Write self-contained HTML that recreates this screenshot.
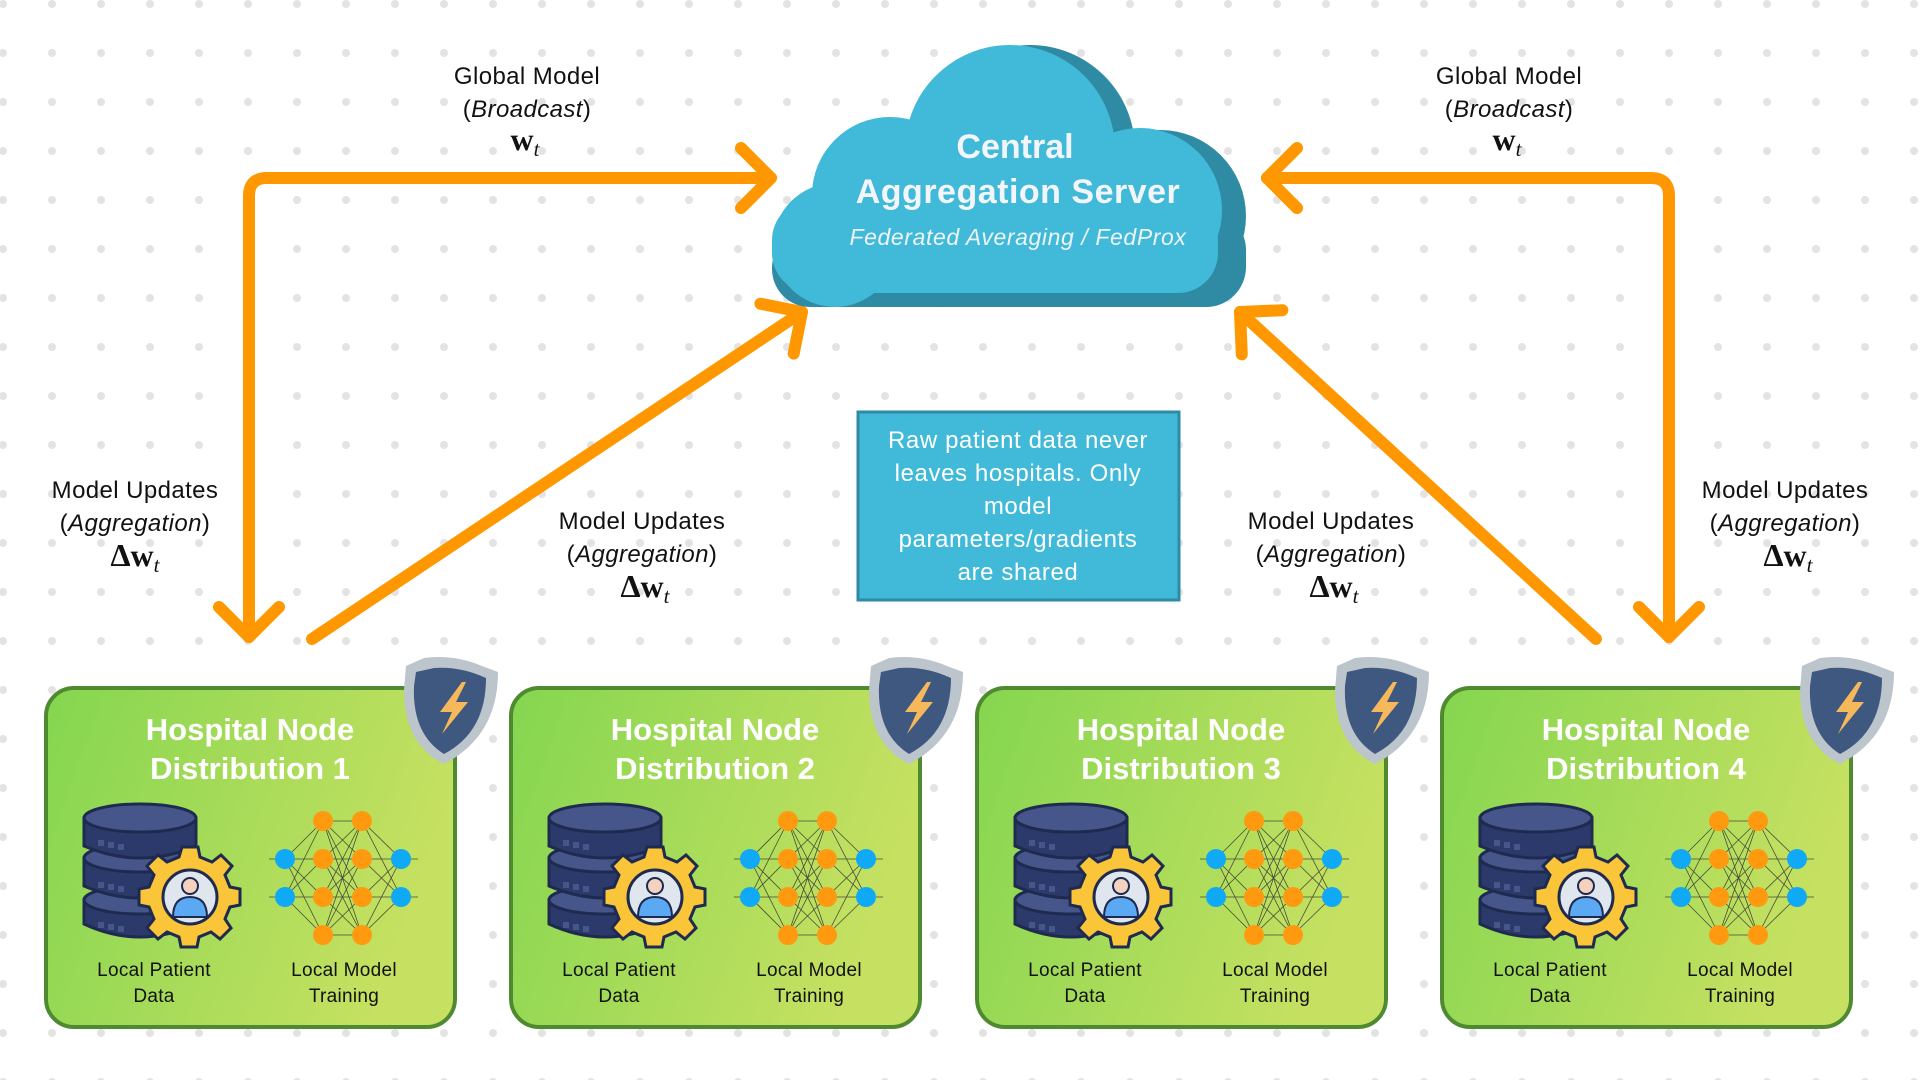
<!DOCTYPE html>
<html><head><meta charset="utf-8"><style>
html,body{margin:0;padding:0;background:#fff;}
svg{display:block;font-family:"Liberation Sans",sans-serif;}
</style></head><body>
<svg width="1920" height="1080" viewBox="0 0 1920 1080" xmlns="http://www.w3.org/2000/svg">
<defs>
<pattern id="dots" x="3" y="4" width="49" height="49" patternUnits="userSpaceOnUse">
<circle cx="0" cy="0" r="4" fill="#e3e3e3"/><circle cx="49" cy="0" r="4" fill="#e3e3e3"/><circle cx="0" cy="49" r="4" fill="#e3e3e3"/><circle cx="49" cy="49" r="4" fill="#e3e3e3"/>
</pattern>
<linearGradient id="cardg" x1="0" x2="1" y1="0" y2="0.3"><stop offset="0" stop-color="#84d650"/><stop offset="1" stop-color="#c6e061"/></linearGradient>
<marker id="chev" markerUnits="userSpaceOnUse" markerWidth="80" markerHeight="80" refX="0" refY="0" orient="auto" overflow="visible">
<path d="M-30,-30 L0,0 L-30,30" fill="none" stroke="#ff9800" stroke-width="12" stroke-linecap="round" stroke-linejoin="round"/>
</marker>
<g id="card">
<rect x="0" y="0" width="409" height="339" rx="28" fill="url(#cardg)" stroke="#4f8a31" stroke-width="4"/>
<text x="204" y="52" text-anchor="middle" font-size="31" font-weight="bold" fill="#fff">Hospital Node</text>
<g stroke="#1e2a4f" stroke-width="3">
<path d="M38,212 L38,236 Q94,262 150,236 L150,212 Z" fill="#2c3a6b"/>
<ellipse cx="94" cy="212" rx="56" ry="14" fill="#46568a"/>
<path d="M38,170 L38,198 Q94,222 150,198 L150,170 Z" fill="#2c3a6b"/>
<ellipse cx="94" cy="170" rx="56" ry="14" fill="#46568a"/>
<path d="M38,130 L38,158 Q94,182 150,158 L150,130 Z" fill="#2c3a6b"/>
<ellipse cx="94" cy="130" rx="56" ry="14" fill="#46568a"/>
</g>
<g fill="#46568a"><rect x="52" y="152" width="6" height="6"/><rect x="62" y="154" width="6" height="6"/><rect x="72" y="156" width="6" height="6"/><rect x="52" y="194" width="6" height="6"/><rect x="62" y="196" width="6" height="6"/><rect x="72" y="198" width="6" height="6"/><rect x="52" y="234" width="6" height="6"/><rect x="62" y="236" width="6" height="6"/><rect x="72" y="238" width="6" height="6"/></g>
<g transform="translate(144,209)">
<g fill="#fbc53a" stroke="#1e2a4f" stroke-width="3">
<path d="M-8,-46 L8,-46 L10,-36 L22,-31 L31,-38 L42,-27 L35,-18 L40,-6 L50,-4 L50,12 L40,14 L35,26 L41,35 L30,46 L21,39 L9,44 L7,54 L-9,54 L-11,44 L-23,39 L-32,46 L-43,35 L-36,26 L-41,14 L-51,12 L-51,-4 L-41,-6 L-36,-18 L-43,-27 L-32,-38 L-23,-31 L-11,-36 Z" transform="translate(0,-4)"/>
</g>
<circle cx="0" cy="0" r="27" fill="#dfe6ee" stroke="#1e2a4f" stroke-width="3"/>
<circle cx="0" cy="-11" r="8" fill="#f3d2bf" stroke="#1e2a4f" stroke-width="2"/>
<path d="M-17,20 Q-17,0 0,0 Q17,0 17,20 Z" fill="#5aa9f2" stroke="#1e2a4f" stroke-width="2"/>
</g>
<g stroke="#333" stroke-width="0.8" opacity="0.85">
<path d="M239,171 L277,133 M239,171 L277,171 M239,171 L277,209 M239,171 L277,247 M239,209 L277,133 M239,209 L277,171 M239,209 L277,209 M239,209 L277,247
M277,133 L316,133 M277,133 L316,171 M277,133 L316,209 M277,133 L316,247 M277,171 L316,133 M277,171 L316,171 M277,171 L316,209 M277,171 L316,247 M277,209 L316,133 M277,209 L316,171 M277,209 L316,209 M277,209 L316,247 M277,247 L316,133 M277,247 L316,171 M277,247 L316,209 M277,247 L316,247
M316,133 L355,171 M316,133 L355,209 M316,171 L355,171 M316,171 L355,209 M316,209 L355,171 M316,209 L355,209 M316,247 L355,171 M316,247 L355,209 M223,171 L239,171 M223,209 L239,209 M355,171 L372,171 M355,209 L372,209"/>
</g>
<g fill="#ff9a10"><circle cx="277" cy="133" r="10"/><circle cx="277" cy="171" r="10"/><circle cx="277" cy="209" r="10"/><circle cx="277" cy="247" r="10"/><circle cx="316" cy="133" r="10"/><circle cx="316" cy="171" r="10"/><circle cx="316" cy="209" r="10"/><circle cx="316" cy="247" r="10"/></g>
<g fill="#10a9f5"><circle cx="239" cy="171" r="10"/><circle cx="239" cy="209" r="10"/><circle cx="355" cy="171" r="10"/><circle cx="355" cy="209" r="10"/></g>
<g font-size="19" font-weight="normal" fill="#111" text-anchor="middle" letter-spacing="0.3">
<text x="108" y="288">Local Patient</text>
<text x="108" y="314">Data</text>
<text x="298" y="288">Local Model</text>
<text x="298" y="314">Training</text>
</g>
<g transform="translate(408,8)">
<path d="M-30,-38 Q0,-42 28,-30 L44,-24 Q44,40 -10,68 Q-50,48 -50,-6 L-48,-30 Z" fill="#bcc4cc"/>
<path d="M-20,-28 Q6,-30 32,-18 Q32,36 -10,58 Q-42,38 -40,-10 L-38,-24 Z" fill="#3f587f"/>
<path d="M8,-14 L-14,16 L-2,16 L-12,38 L14,6 L2,6 L12,-14 Z" fill="#f5b85a"/>
</g>
</g>
</defs>
<rect width="1920" height="1080" fill="url(#dots)"/>

<g fill="none" stroke="#ff9800" stroke-width="12" stroke-linecap="round" stroke-linejoin="round">
<path d="M249,637 L249,196 Q249,178 267,178 L771,178" marker-end="url(#chev)"/>
<path d="M249,400 L249,637" marker-end="url(#chev)" stroke-opacity="0"/>
<path d="M1669,637 L1669,196 Q1669,178 1651,178 L1267,178" marker-end="url(#chev)"/>
<path d="M1669,400 L1669,637" marker-end="url(#chev)" stroke-opacity="0"/>
<path d="M312,639 L802,312" marker-end="url(#chev)"/>
<path d="M1596,639 L1240,312" marker-end="url(#chev)"/>
</g>

<g fill="#2f8aa3">
<circle cx="1030" cy="150" r="105"/><circle cx="1160" cy="216" r="86"/><rect x="790" y="210" width="456" height="97" rx="40"/>
<rect x="772" y="230" width="200" height="77" rx="38"/>
</g>
<g fill="#41b9d9">
<circle cx="1010" cy="150" r="105"/><circle cx="890" cy="195" r="78"/><circle cx="835" cy="245" r="62"/><circle cx="1140" cy="210" r="82"/><rect x="772" y="200" width="446" height="93" rx="40"/>
</g>
<text x="1015" y="158" text-anchor="middle" font-size="34" font-weight="bold" fill="#f2f6fb">Central</text>
<text x="1018" y="203" text-anchor="middle" font-size="34" font-weight="bold" fill="#f2f6fb" letter-spacing="0.5">Aggregation Server</text>
<text x="1018" y="245" text-anchor="middle" font-size="23" font-style="italic" fill="#eef5fa" letter-spacing="0.6">Federated Averaging / FedProx</text>

<rect x="858" y="412" width="321" height="188" fill="#41b9d9" stroke="#2f8aa3" stroke-width="3"/>
<g font-size="24" fill="#fff" text-anchor="middle" letter-spacing="0.6">
<text x="1018" y="448">Raw patient data never</text>
<text x="1018" y="481">leaves hospitals. Only</text>
<text x="1018" y="514">model</text>
<text x="1018" y="547">parameters/gradients</text>
<text x="1018" y="580">are shared</text>
</g>

<g font-size="24" fill="#111" text-anchor="middle" letter-spacing="0.4">
<text x="527" y="84">Global Model</text>
<text x="527" y="117">(<tspan font-style="italic">Broadcast</tspan>)</text>
<text x="1509" y="84">Global Model</text>
<text x="1509" y="117">(<tspan font-style="italic">Broadcast</tspan>)</text>
<text x="135" y="498">Model Updates</text>
<text x="135" y="531">(<tspan font-style="italic">Aggregation</tspan>)</text>
<text x="642" y="529">Model Updates</text>
<text x="642" y="562">(<tspan font-style="italic">Aggregation</tspan>)</text>
<text x="1331" y="529">Model Updates</text>
<text x="1331" y="562">(<tspan font-style="italic">Aggregation</tspan>)</text>
<text x="1785" y="498">Model Updates</text>
<text x="1785" y="531">(<tspan font-style="italic">Aggregation</tspan>)</text>
</g>
<g font-family="Liberation Serif,serif" font-size="32" fill="#111" text-anchor="middle" font-weight="bold">
<text x="525" y="150">w<tspan font-style="italic" font-weight="normal" font-size="21" dy="6">t</tspan></text>
<text x="1507" y="150">w<tspan font-style="italic" font-weight="normal" font-size="21" dy="6">t</tspan></text>
<text x="135" y="566">Δw<tspan font-style="italic" font-weight="normal" font-size="21" dy="6">t</tspan></text>
<text x="645" y="597">Δw<tspan font-style="italic" font-weight="normal" font-size="21" dy="6">t</tspan></text>
<text x="1334" y="597">Δw<tspan font-style="italic" font-weight="normal" font-size="21" dy="6">t</tspan></text>
<text x="1788" y="566">Δw<tspan font-style="italic" font-weight="normal" font-size="21" dy="6">t</tspan></text>
</g>

<g transform="translate(46,688)"><use href="#card"/><text x="204" y="91" font-size="31" font-weight="bold" fill="#fff" text-anchor="middle">Distribution 1</text></g>
<g transform="translate(511,688)"><use href="#card"/><text x="204" y="91" font-size="31" font-weight="bold" fill="#fff" text-anchor="middle">Distribution 2</text></g>
<g transform="translate(977,688)"><use href="#card"/><text x="204" y="91" font-size="31" font-weight="bold" fill="#fff" text-anchor="middle">Distribution 3</text></g>
<g transform="translate(1442,688)"><use href="#card"/><text x="204" y="91" font-size="31" font-weight="bold" fill="#fff" text-anchor="middle">Distribution 4</text></g>
</svg>
</body></html>
